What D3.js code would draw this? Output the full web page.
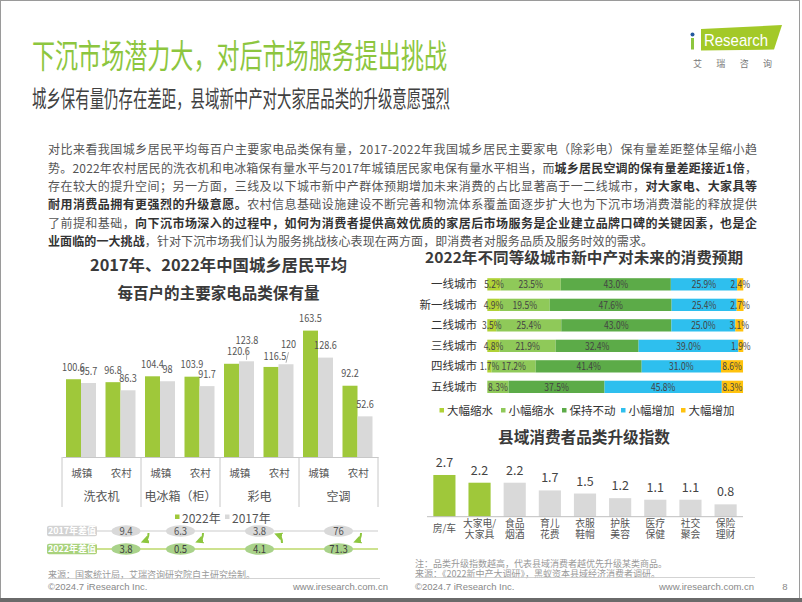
<!DOCTYPE html>
<html><head><meta charset="utf-8">
<script src="https://cdn.jsdelivr.net/npm/d3@7"></script>
<style>
html,body{margin:0;padding:0;background:#fff;}
svg{display:block;font-family:"Noto Sans CJK SC","Noto Sans",sans-serif;}
</style></head><body>
<svg id="c" width="802" height="602"></svg>
<script>
// ---------- data ----------
const titleText = "下沉市场潜力大，对后市场服务提出挑战";
const subtitleText = "城乡保有量仍存在差距，县域新中产对大家居品类的升级意愿强烈";
const paragraphLines = [
  [["对比来看我国城乡居民平均每百户主要家电品类保有量，2017-2022年我国城乡居民主要家电（除彩电）保有量差距整体呈缩小趋",0]],
  [["势。2022年农村居民的洗衣机和电冰箱保有量水平与2017年城镇居民家电保有量水平相当，而",0],["城乡居民空调的保有量差距接近1倍",1],["，",0]],
  [["存在较大的提升空间；另一方面，三线及以下城市新中产群体预期增加未来消费的占比显著高于一二线城市，",0],["对大家电、大家具等",1]],
  [["耐用消费品拥有更强烈的升级意愿。",1],["农村信息基础设施建设不断完善和物流体系覆盖面逐步扩大也为下沉市场消费潜能的释放提供",0]],
  [["了前提和基础，",0],["向下沉市场深入的过程中，如何为消费者提供高效优质的家居后市场服务是企业建立品牌口碑的关键因素，也是企",1]],
  [["业面临的一大挑战",1],["，针对下沉市场我们认为服务挑战核心表现在两方面，即消费者对服务品质及服务时效的需求。",0]]
];

const leftTitle = ["2017年、2022年中国城乡居民平均","每百户的主要家电品类保有量"];
const appliances = ["洗衣机","电冰箱（柜）","彩电","空调"];
const areas = ["城镇","农村"];
const years = ["2022年","2017年"];
const own2022 = [100.6, 96.8, 104.4, 103.9, 120.6, 116.5, 163.5, 92.2];
const own2017 = [95.7, 86.3, 98, 91.7, 123.8, 120, 128.6, 52.6];
const gapLabels = ["2017年差值","2022年差值"];
const gap2017 = [9.4, 6.3, 3.8, 76];
const gap2022 = [3.8, 0.5, 4.1, 71.3];

const rightTitle = "2022年不同等级城市新中产对未来的消费预期";
const cityTiers = ["一线城市","新一线城市","二线城市","三线城市","四线城市","五线城市"];
const expectKeys = ["大幅缩水","小幅缩水","保持不动","小幅增加","大幅增加"];
const bigDrop   = [5.2, 4.9, 3.5, 4.8, 1.7, 0];
const smallDrop = [23.5, 19.5, 25.4, 21.9, 17.2, 8.3];
const noChange  = [43.0, 47.6, 43.0, 32.4, 41.4, 37.5];
const smallRise = [25.9, 25.4, 25.0, 39.0, 31.0, 45.8];
const bigRise   = [2.4, 2.7, 3.1, 1.9, 8.6, 8.3];

const upgradeTitle = "县域消费者品类升级指数";
const upgradeCats = ["房/车","大家电/大家具","食品烟酒","育儿花费","衣服鞋帽","护肤美容","医疗保健","社交聚会","保险理财"];
const upgradeIndex = [2.7, 2.2, 2.2, 1.7, 1.5, 1.2, 1.1, 1.1, 0.8];

// ---------- style ----------
const GREEN = "#9fc83a", GRAY = "#d9d9d9", TXT = "#555", DARK = "#3a3a3a";
const LATIN = '"Liberation Sans", Arial, sans-serif';
const svg = d3.select("#c");
// narrow number width (the reference uses a condensed numeral face)
const numW = (s, size) => Array.from(s).reduce((w,ch)=> w + (ch==="."?0.23:ch==="%"?0.72:0.46)*size, 0);

// frame
svg.append("rect").attr("x",0.5).attr("y",0.5).attr("width",799).attr("height",598)
  .attr("fill","#fff").attr("stroke","#9a9a9a");
svg.append("rect").attr("x",0).attr("y",598).attr("width",802).attr("height",4).attr("fill","#6a6a6a");

// title & subtitle
svg.append("text").attr("x",32).attr("y",56).attr("dy","0.36em").attr("font-size",33)
  .attr("fill","#8dc63f").attr("textLength",415).attr("lengthAdjust","spacingAndGlyphs").text(titleText);
svg.append("text").attr("x",32).attr("y",98.5).attr("dy","0.36em").attr("font-size",23)
  .attr("fill","#404040").attr("textLength",418).attr("lengthAdjust","spacingAndGlyphs").text(subtitleText);

// logo
svg.append("polygon").attr("points","701,29 782,25 774,49.5 701,50.5").attr("fill","#a3c928");
svg.append("text").attr("x",704).attr("y",45.5).attr("font-family",LATIN).attr("font-size",17)
  .attr("fill","#fff").attr("textLength",64).attr("lengthAdjust","spacingAndGlyphs").text("Research");
svg.append("circle").attr("cx",692.5).attr("cy",34.5).attr("r",2).attr("fill","#24589e");
svg.append("rect").attr("x",691).attr("y",38).attr("width",3).attr("height",11.5).attr("fill","#8dc63f");
svg.append("text").attr("x",693).attr("y",63.5).attr("dy","0.35em").attr("font-size",9)
  .attr("fill","#777").attr("textLength",79).text("艾瑞咨询");

// paragraph
paragraphLines.forEach((parts,i)=>{
  const t = svg.append("text").attr("x",48).attr("y",150 + i*18.33).attr("dy","0.36em")
    .attr("font-size",12).attr("fill",TXT)
    .attr("textLength", i<5 ? 709 : 605).attr("lengthAdjust","spacing");
  parts.forEach(([s,b])=>{
    t.append("tspan").attr("font-weight",b?700:400).attr("fill",b?"#333":TXT).text(s);
  });
});

// ---------- left chart ----------
leftTitle.forEach((s,i)=>{
  svg.append("text").attr("x",218.5).attr("y",265+i*28).attr("dy","0.36em").attr("text-anchor","middle")
    .attr("font-size",16).attr("font-weight",700).attr("fill",DARK)
    .attr("textLength", i===0?257:202).attr("lengthAdjust","spacingAndGlyphs").text(s);
});
const subKeys = appliances.flatMap(a=>areas.map(r=>a+"|"+r));
const xSub = d3.scaleBand().domain(subKeys).range([62,378]);
const xYear = d3.scaleBand().domain(years).range([4, xSub.bandwidth()-5.5]);
const yL = d3.scaleLinear().domain([0,180]).range([457, 457-180*0.773]);
const leftRows = subKeys.map((k,i)=>({k, v:[own2022[i], own2017[i]]}));
const lg = svg.append("g");
leftRows.forEach((r,i)=>{
  years.forEach((yr,j)=>{
    lg.append("rect").attr("x",xSub(r.k)+xYear(yr)).attr("y",yL(r.v[j]))
      .attr("width",xYear.bandwidth()).attr("height",yL(0)-yL(r.v[j]))
      .attr("fill", j===0?GREEN:GRAY);
  });
});
// labels, with small nudges for the crowded 彩电 group
const labelNudge = {"4-0":{dx:7,dy:0},"5-0":{dx:4,dy:1},"4-1":{dx:0.5,dy:-9.3,lead:true},"5-1":{dx:2.5,dy:-8,lead:true}};
leftRows.forEach((r,i)=>{
  years.forEach((yr,j)=>{
    const cx = xSub(r.k)+xYear(yr)+xYear.bandwidth()/2;
    const top = yL(r.v[j]);
    const n = labelNudge[i+"-"+j] || {dx:0,dy:0};
    const lx = cx + n.dx, ly = top - 12 + n.dy;
    const s = String(r.v[j]);
    lg.append("text").attr("x",lx).attr("y",ly).attr("dy","0.35em").attr("text-anchor","middle")
      .attr("font-size",10.5).attr("fill",TXT)
      .attr("textLength",numW(s,11)).attr("lengthAdjust","spacingAndGlyphs").text(s);
    if (n.lead) {
      lg.append("line").attr("x1",lx).attr("y1",ly+8).attr("x2",cx).attr("y2",top-1.5)
        .attr("stroke","#999").attr("stroke-width",0.8);
    }
  });
});
// two-level category axis
const axisG = svg.append("g").attr("transform","translate(0,457)")
  .call(d3.axisBottom(xSub).tickSize(0).tickSizeOuter(0).tickFormat(k=>k.split("|")[1]));
axisG.select(".domain").attr("stroke","#c8c8c8");
axisG.selectAll(".tick text").attr("y",16).attr("dy","0.35em").attr("font-size",10.5)
  .attr("fill",TXT).attr("font-family",'"Noto Sans CJK SC",sans-serif');
const groupEdges = appliances.map(a=>xSub(a+"|"+areas[0])).concat([xSub.range()[1]]);
groupEdges.forEach(x=>{
  svg.append("line").attr("x1",x).attr("x2",x).attr("y1",457).attr("y2",507).attr("stroke","#c8c8c8");
});
const groupCenter = a => (xSub(a+"|"+areas[0]) + xSub(a+"|"+areas[1]) + xSub.bandwidth())/2;
appliances.forEach(a=>{
  svg.append("text").attr("x",groupCenter(a)).attr("y",497).attr("dy","0.35em").attr("text-anchor","middle")
    .attr("font-size",12).attr("fill",TXT).text(a);
});
// legend
const legL = svg.append("g");
[[175,"2022年",GREEN],[225,"2017年",GRAY]].forEach(([x,s,c])=>{
  legL.append("rect").attr("x",x).attr("y",514.5).attr("width",4.5).attr("height",4.5).attr("fill",c);
  legL.append("text").attr("x",x+7).attr("y",519).attr("dy","0.36em").attr("font-size",12).attr("fill",TXT).text(s);
});
// gap rows
const gapRows = [
  {label:gapLabels[0], vals:gap2017, y:531, box:"#d3d3d3", line:"#dcdcdc", pill:"#d9d9d9", txt:"#555"},
  {label:gapLabels[1], vals:gap2022, y:549, box:"#a9d27c", line:"#bcd96a", pill:"#a9d28a", txt:"#3f3f3f"}
];
const pillX = appliances.map((a,i)=>Math.max(groupCenter(a),126));
gapRows.forEach(r=>{
  svg.append("line").attr("x1",97).attr("x2",378).attr("y1",r.y).attr("y2",r.y).attr("stroke",r.line).attr("stroke-width",1.6);
  svg.append("rect").attr("x",47).attr("y",r.y-5.3).attr("width",50).attr("height",10.6).attr("rx",2).attr("fill",r.box);
  svg.append("text").attr("x",72).attr("y",r.y).attr("dy","0.36em").attr("text-anchor","middle")
    .attr("font-size",9).attr("font-weight",700).attr("fill","#fff").text(r.label);
  r.vals.forEach((v,i)=>{
    svg.append("ellipse").attr("cx",pillX[i]).attr("cy",r.y).attr("rx",14.5).attr("ry",5.8).attr("fill",r.pill);
    svg.append("text").attr("x",pillX[i]).attr("y",r.y).attr("dy","0.36em").attr("text-anchor","middle")
      .attr("font-size",11).attr("fill",r.txt)
      .attr("textLength",numW(String(v),11.5)).attr("lengthAdjust","spacingAndGlyphs").text(v);
  });
});
svg.append("defs").append("marker").attr("id","ah").attr("viewBox","0 0 10 10").attr("refX",5).attr("refY",5)
  .attr("markerWidth",4).attr("markerHeight",4).attr("orient","auto")
  .append("path").attr("d","M0,0 L10,5 L0,10 Z").attr("fill","#8dc63f");
gap2017.forEach((v,i)=>{
  const ax = pillX[i]+20;
  const down = gap2022[i] < v;
  const d = down ? `M${ax+2.5},533 Q${ax+2.5},539.5 ${ax-1.5},541` : `M${ax+2.5},543 Q${ax+2.5},536.5 ${ax-1.5},535`;
  svg.append("path").attr("d",d).attr("fill","none").attr("stroke","#8dc63f").attr("stroke-width",2).attr("marker-end","url(#ah)");
});
// left footer
svg.append("text").attr("x",48).attr("y",575).attr("dy","0.35em").attr("font-size",9).attr("fill","#999")
  .text("来源：国家统计局，艾瑞咨询研究院自主研究绘制。");
svg.append("line").attr("x1",48).attr("x2",380).attr("y1",578.5).attr("y2",578.5).attr("stroke","#c8c8c8").attr("stroke-width",0.8);
svg.append("text").attr("x",48).attr("y",586.5).attr("dy","0.35em").attr("font-size",9.5).attr("font-family",LATIN).attr("fill","#888").text("©2024.7 iResearch Inc.");
svg.append("text").attr("x",388).attr("y",586.5).attr("dy","0.35em").attr("text-anchor","end").attr("font-size",9.5).attr("font-family",LATIN).attr("fill","#888").text("www.iresearch.com.cn");

// ---------- right stacked chart ----------
svg.append("text").attr("x",584).attr("y",258).attr("dy","0.36em").attr("text-anchor","middle")
  .attr("font-size",15).attr("font-weight",700).attr("fill",DARK)
  .attr("textLength",318).attr("lengthAdjust","spacingAndGlyphs").text(rightTitle);
const expectColors = ["#b0d236","#8fc959","#5cab48","#2ebfee","#ffc20e"];
const expectTable = cityTiers.map((c,i)=>({city:c, "大幅缩水":bigDrop[i], "小幅缩水":smallDrop[i], "保持不动":noChange[i], "小幅增加":smallRise[i], "大幅增加":bigRise[i]}));
const stack = d3.stack().keys(expectKeys)(expectTable);
const xS = d3.scaleLinear().domain([0,100]).range([487.3,743.3]);
const yS = d3.scaleBand().domain(cityTiers).range([270,401.2]).padding(0.4);
const sc = d3.scaleOrdinal().domain(expectKeys).range(expectColors);
const sg = svg.append("g");
stack.forEach(layer=>{
  sg.selectAll(null).data(layer).enter().append("rect")
    .attr("x",d=>xS(d[0])).attr("y",d=>yS(d.data.city))
    .attr("width",d=>xS(d[1])-xS(d[0])).attr("height",yS.bandwidth()).attr("fill",sc(layer.key));
});
stack.forEach(layer=>{
  sg.selectAll(null).data(layer.filter(d=>d[1]-d[0]>0)).enter().append("text")
    .attr("x",d=>(xS(d[0])+xS(d[1]))/2).attr("y",d=>yS(d.data.city)+yS.bandwidth()/2).attr("dy","0.36em")
    .attr("text-anchor","middle").attr("font-size",10.5).attr("fill","#444")
    .attr("textLength",d=>numW((d[1]-d[0]).toFixed(1)+"%",10.5)).attr("lengthAdjust","spacingAndGlyphs")
    .text(d=>(d[1]-d[0]).toFixed(1)+"%");
});
cityTiers.forEach(c=>{
  svg.append("text").attr("x",477).attr("y",yS(c)+yS.bandwidth()/2).attr("dy","0.36em").attr("text-anchor","end")
    .attr("font-size",11.5).attr("fill","#333").text(c);
});
const legX = [441.5,503,564,623,683];
expectKeys.forEach((k,i)=>{
  svg.append("rect").attr("x",legX[i]-2).attr("y",408).attr("width",4.5).attr("height",4.5).attr("fill",sc(k));
  svg.append("text").attr("x",legX[i]+5.5).attr("y",410.7).attr("dy","0.36em").attr("font-size",11.5).attr("fill","#333").text(k);
});

// ---------- upgrade index chart ----------
svg.append("text").attr("x",584).attr("y",437).attr("dy","0.36em").attr("text-anchor","middle")
  .attr("font-size",16).attr("font-weight",700).attr("fill",DARK)
  .attr("textLength",172).attr("lengthAdjust","spacingAndGlyphs").text(upgradeTitle);
const xU = d3.scaleBand().domain(upgradeCats).range([427,743]).paddingInner(0.37).paddingOuter(0.18);
const yU = d3.scaleLinear().domain([0,3]).range([516.7, 516.7-3*15.45]);
const ug = svg.append("g");
ug.selectAll("rect").data(upgradeCats).enter().append("rect")
  .attr("x",c=>xU(c)).attr("y",(c,i)=>yU(upgradeIndex[i])).attr("width",xU.bandwidth())
  .attr("height",(c,i)=>yU(0)-yU(upgradeIndex[i])).attr("fill",(c,i)=>i<2?GREEN:GRAY);
ug.selectAll(".v").data(upgradeCats).enter().append("text")
  .attr("x",c=>xU(c)+xU.bandwidth()/2).attr("y",(c,i)=>yU(upgradeIndex[i])-12.5).attr("dy","0.36em")
  .attr("text-anchor","middle").attr("font-size",12.5).attr("fill","#444").text((c,i)=>upgradeIndex[i].toFixed(1));
svg.append("line").attr("x1",427).attr("x2",743).attr("y1",516.7).attr("y2",516.7).attr("stroke","#bfbfbf");
upgradeCats.forEach(c=>{
  const lines = c.includes("/") && c.length>3 ? [c.slice(0,c.indexOf("/")+1), c.slice(c.indexOf("/")+1)]
              : c.length===4 ? [c.slice(0,2), c.slice(2)] : [c];
  const cx = xU(c)+xU.bandwidth()/2;
  lines.forEach((s,j)=>{
    svg.append("text").attr("x",cx).attr("y", lines.length===1 ? 528.5 : 523.3 + j*10.8).attr("dy","0.36em")
      .attr("text-anchor","middle").attr("font-size",9.8).attr("fill",TXT).text(s);
  });
});
// right footer
svg.append("text").attr("x",415).attr("y",564).attr("dy","0.35em").attr("font-size",9).attr("fill","#999")
  .text("注：品类升级指数越高，代表县域消费者越优先升级某类商品。");
svg.append("text").attr("x",415).attr("y",574).attr("dy","0.35em").attr("font-size",9).attr("fill","#999")
  .text("来源：《2022新中产大调研》，黑蚁资本县域经济消费者调研。");
svg.append("line").attr("x1",415).attr("x2",755).attr("y1",577.5).attr("y2",577.5).attr("stroke","#c8c8c8").attr("stroke-width",0.8);
svg.append("text").attr("x",415).attr("y",586.5).attr("dy","0.35em").attr("font-size",9.5).attr("font-family",LATIN).attr("fill","#888").text("©2024.7 iResearch Inc.");
svg.append("text").attr("x",754).attr("y",586.5).attr("dy","0.35em").attr("text-anchor","end").attr("font-size",9.5).attr("font-family",LATIN).attr("fill","#888").text("www.iresearch.com.cn");
svg.append("text").attr("x",785).attr("y",586.5).attr("dy","0.35em").attr("text-anchor","middle").attr("font-size",9.5).attr("font-family",LATIN).attr("fill","#888").text("8");
</script>
</body></html>
